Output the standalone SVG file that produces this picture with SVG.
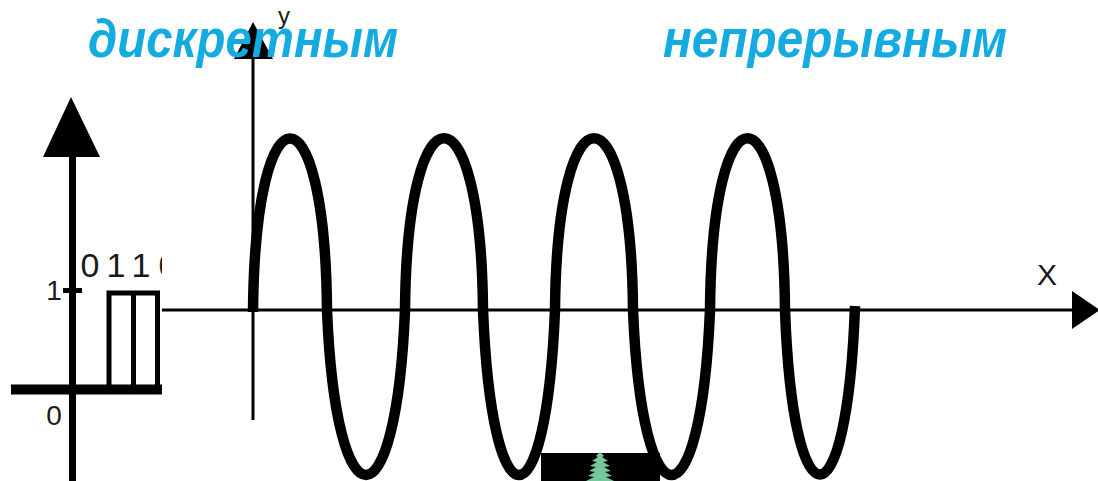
<svg xmlns="http://www.w3.org/2000/svg" width="1098" height="481" viewBox="0 0 1098 481">
<style>
.title{font-family:"Liberation Sans",Arial,sans-serif;font-weight:bold;font-style:italic;font-size:54px;fill:#14ACE0}
.lbl{font-family:"Liberation Sans",Arial,sans-serif;fill:#1a1a1a}
.axis{stroke:#000;fill:none}
</style>
<defs>
<clipPath id="clipBits"><rect x="0" y="200" width="162" height="100"/></clipPath>
</defs>
<rect width="1098" height="481" fill="#fff"/>
<g id="discrete-plot">
<line class="axis" x1="72.5" y1="150" x2="72.5" y2="481" stroke-width="7"/>
<polygon points="71,97 43,157 100,157" fill="#000"/>
<line class="axis" x1="11" y1="389.5" x2="162" y2="389.5" stroke-width="10"/>
<line class="axis" x1="63" y1="290.5" x2="82" y2="290.5" stroke-width="5"/>
<path class="axis" d="M109,389 V293 H157.5 V389 M133.5,293 V389" stroke-width="5"/>
<text class="lbl" x="54" y="300" font-size="28" text-anchor="middle">1</text>
<text class="lbl" x="54" y="425" font-size="28" text-anchor="middle">0</text>
<g clip-path="url(#clipBits)">
<text class="lbl" x="90" y="277" font-size="34" text-anchor="middle">0</text>
<text class="lbl" x="116" y="277" font-size="34" text-anchor="middle">1</text>
<text class="lbl" x="141" y="277" font-size="34" text-anchor="middle">1</text>
<text class="lbl" x="168" y="277" font-size="34" text-anchor="middle">0</text>
</g>
</g>
<g id="continuous-plot">
<line class="axis" x1="162" y1="310" x2="1075" y2="310" stroke-width="3"/>
<polygon points="1072,291 1100,310 1072,329" fill="#000"/>
<line class="axis" x1="253" y1="58" x2="253" y2="420" stroke-width="3"/>
<polygon points="253,22 234,59 273,59" fill="#000"/>
<text class="lbl" x="1047" y="285" font-size="30" text-anchor="middle">X</text>
<text class="lbl" x="284" y="24" font-size="24" text-anchor="middle">y</text>
</g>
<g id="connectors">
<path d="M253,312 C255,81 325,81 327,310 C336,530 396,530 405,310 C407,81 481,81 483,310 C492,530 546,530 555,310 C557,81 631,81 633,310 C642,530 701,530 710,310 C712,81 783,81 785,310 C793,530 847,530 855,306" fill="none" stroke="#000" stroke-width="10.5" stroke-linejoin="round"/>
</g>
<g id="badge">
<rect x="541" y="453" width="119" height="28" fill="#000"/>
<polygon points="600,452 596,456 598,457 592,461 597,462 590,466 596,467 589,471 595,472 588,476 594,477 586,481 614,481 606,477 612,476 605,472 611,471 604,467 610,466 603,462 608,461 602,457 604,456" fill="#76C89A"/>
</g>
<g id="titles">
<text class="title" x="88" y="57" textLength="310" lengthAdjust="spacingAndGlyphs">дискретным</text>
<text class="title" x="663" y="57" textLength="344" lengthAdjust="spacingAndGlyphs">непрерывным</text>
</g>
</svg>
